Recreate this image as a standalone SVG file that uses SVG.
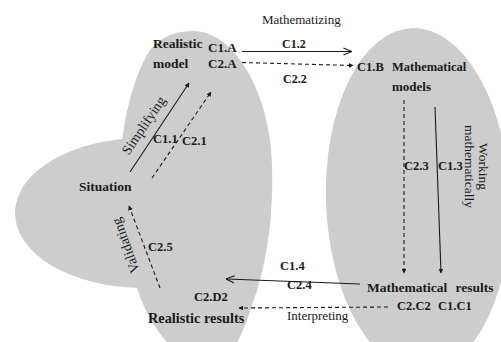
<svg xmlns="http://www.w3.org/2000/svg" width="501" height="342" viewBox="0 0 501 342">
  <style>
    .blob { fill: #cdcdcd; stroke: none; }
    .lbl { font-family: "Liberation Serif", "Times New Roman", serif; font-weight: bold; fill: #1a1a1a; }
    .verb { font-family: "Liberation Serif", "Times New Roman", serif; font-weight: normal; fill: #1a1a1a; }
    .solid { stroke: #1a1a1a; stroke-width: 1.1; fill: none; }
    .dash { stroke: #1a1a1a; stroke-width: 1.1; fill: none; stroke-dasharray: 4 3; }
  </style>
  <defs>
    <marker id="tri" viewBox="0 0 8 8" refX="7" refY="4" markerWidth="5" markerHeight="5" markerUnits="userSpaceOnUse" orient="auto">
      <path d="M0,0 L8,4 L0,8 Z" fill="#1a1a1a"/>
    </marker>
    <marker id="vee" viewBox="0 0 10 10" refX="9.5" refY="5" markerWidth="9" markerHeight="9" markerUnits="userSpaceOnUse" orient="auto">
      <path d="M0,1 L9.5,5 L0,9" fill="none" stroke="#1a1a1a" stroke-width="1.2"/>
    </marker>
  </defs>

  <!-- background regions -->
  <g id="real-world">
    <path class="blob" d="M193,31 C230,31 262,80 270,140 C276,190 270,260 252,305 C244,330 235,355 215,368 C190,370 165,345 150,318 C140,300 125,260 120,215 C116,160 125,90 150,50 C162,36 177,31 193,31 Z"/>
    <ellipse class="blob" cx="143" cy="213" rx="128" ry="75"/>
  </g>
  <g id="math-world">
    <ellipse class="blob" cx="418" cy="200" rx="92" ry="172" transform="rotate(-2 418 200)"/>
  </g>

  <!-- connectors -->
  <g id="connectors">
    <line class="solid" x1="242" y1="51.5" x2="352" y2="51.5" marker-end="url(#vee)"/>
    <line class="dash" x1="242" y1="62.5" x2="353" y2="65.5" marker-end="url(#tri)"/>
    <line class="solid" x1="130" y1="172" x2="189" y2="83" marker-end="url(#tri)"/>
    <line class="dash" x1="152" y1="178" x2="211" y2="92" marker-end="url(#tri)"/>
    <line class="dash" x1="404" y1="100" x2="404" y2="273" marker-end="url(#tri)"/>
    <line class="solid" x1="435" y1="107" x2="441" y2="273" marker-end="url(#tri)"/>
    <line class="solid" x1="360" y1="284" x2="226" y2="279" marker-end="url(#vee)"/>
    <line class="dash" x1="388" y1="307" x2="239" y2="308" marker-end="url(#tri)"/>
    <line class="dash" x1="160" y1="288" x2="129" y2="206" marker-end="url(#tri)"/>
  </g>

  <!-- nodes -->
  <g id="node-realistic-model">
    <text class="lbl" x="153" y="47.5" font-size="13.5">Realistic</text>
    <text class="lbl" x="153" y="68" font-size="13.5">model</text>
    <text class="lbl" x="208" y="52" font-size="13">C1.A</text>
    <text class="lbl" x="208" y="68" font-size="13">C2.A</text>
  </g>
  <g id="node-situation">
    <text class="lbl" x="79" y="191" font-size="13.5">Situation</text>
  </g>
  <g id="node-mathematical-models">
    <text class="lbl" x="357" y="71" font-size="12.5">C1.B</text>
    <text class="lbl" x="392" y="71" font-size="12.5">Mathematical</text>
    <text class="lbl" x="392" y="91" font-size="13">models</text>
  </g>
  <g id="node-mathematical-results">
    <text class="lbl" x="367" y="292" font-size="13.5" word-spacing="5">Mathematical results</text>
    <text class="lbl" x="397" y="310" font-size="12.5">C2.C2</text>
    <text class="lbl" x="438" y="310" font-size="12.5">C1.C1</text>
  </g>
  <g id="node-realistic-results">
    <text class="lbl" x="148" y="323" font-size="14.3">Realistic results</text>
    <text class="lbl" x="194" y="301" font-size="12.5">C2.D2</text>
  </g>

  <!-- connector labels -->
  <g id="labels">
    <text class="verb" x="262" y="24" font-size="13">Mathematizing</text>
    <text class="lbl" x="282" y="48" font-size="12">C1.2</text>
    <text class="lbl" x="283" y="83" font-size="12">C2.2</text>
    <text class="verb" font-size="14" text-anchor="middle" transform="translate(147.5 128) rotate(-56)">Simplifying</text>
    <text class="lbl" x="153" y="143" font-size="12.5">C1.1</text>
    <text class="lbl" x="182" y="145" font-size="12.5">C2.1</text>
    <text class="lbl" x="404" y="170" font-size="12.5">C2.3</text>
    <text class="lbl" x="438" y="170" font-size="12.5">C1.3</text>
    <text class="verb" font-size="13.5" text-anchor="middle" transform="translate(479 166.5) rotate(90)">Working</text>
    <text class="verb" font-size="13.5" text-anchor="middle" transform="translate(465 166.5) rotate(90)">mathematically</text>
    <text class="lbl" x="280" y="270" font-size="12.5">C1.4</text>
    <text class="lbl" x="287" y="289" font-size="12.5">C2.4</text>
    <text class="verb" x="287" y="320" font-size="13">Interpreting</text>
    <text class="verb" font-size="14" text-anchor="middle" transform="translate(130 244) rotate(-110)">Validating</text>
    <text class="lbl" x="148" y="251" font-size="12.5">C2.5</text>
  </g>
</svg>
